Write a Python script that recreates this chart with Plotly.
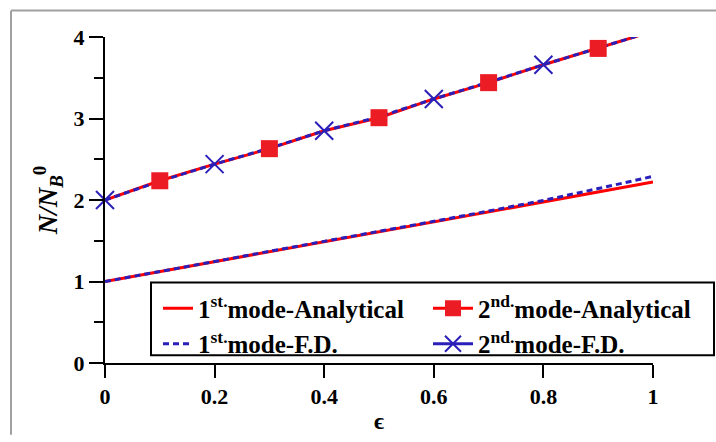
import plotly.graph_objects as go

# ---------------- data ----------------
eps = [0.0, 0.1, 0.2, 0.3, 0.4, 0.5, 0.6, 0.7, 0.8, 0.9, 1.0]
mode1_analytical = [1.00, 1.122, 1.244, 1.366, 1.488, 1.61, 1.732, 1.854, 1.976, 2.098, 2.22]
mode1_fd = [1.00, 1.12, 1.245, 1.37, 1.49, 1.612, 1.738, 1.865, 1.995, 2.14, 2.29]
mode2_analytical = [2.00, 2.236, 2.44, 2.63, 2.85, 3.01, 3.24, 3.44, 3.66, 3.86, 4.07]
mode2_fd = [2.00, 2.23, 2.44, 2.635, 2.85, 3.02, 3.24, 3.445, 3.66, 3.865, 4.07]
square_idx = [1, 3, 5, 7, 9]   # analytical markers
cross_idx = [0, 2, 4, 6, 8]    # F.D. markers

x_ticks = [0, 0.2, 0.4, 0.6, 0.8, 1]
x_tick_text = ["0", "0.2", "0.4", "0.6", "0.8", "1"]
y_ticks = [0, 1, 2, 3, 4]
y_tick_text = ["0", "1", "2", "3", "4"]

names = [
    "1<sup>st.</sup>mode-Analytical",
    "2<sup>nd.</sup>mode-Analytical",
    "1<sup>st.</sup>mode-F.D.",
    "2<sup>nd.</sup>mode-F.D.",
]

RED = "#FF0000"
SQ_RED = "#EC1C24"
BLUE = "#2A1FB8"
FONT = "Liberation Serif"

fig = go.Figure()

# lines
fig.add_trace(go.Scatter(x=eps, y=mode1_analytical, mode="lines",
                         line=dict(color=RED, width=3), showlegend=False))
fig.add_trace(go.Scatter(x=eps, y=mode1_fd, mode="lines",
                         line=dict(color=BLUE, width=3, dash="6px,4px"), showlegend=False))
fig.add_trace(go.Scatter(x=eps, y=mode2_analytical, mode="lines",
                         line=dict(color=RED, width=3), showlegend=False))
fig.add_trace(go.Scatter(x=eps, y=mode2_fd, mode="lines",
                         line=dict(color=BLUE, width=3, dash="6px,4px"), showlegend=False))
# markers
fig.add_trace(go.Scatter(x=[eps[i] for i in square_idx], y=[mode2_analytical[i] for i in square_idx],
                         mode="markers", marker=dict(symbol="square", size=17, color=SQ_RED),
                         showlegend=False, cliponaxis=False))
fig.add_trace(go.Scatter(x=[eps[i] for i in cross_idx], y=[mode2_fd[i] for i in cross_idx],
                         mode="markers",
                         marker=dict(symbol="x-thin", size=18, color=BLUE,
                                     line=dict(color=BLUE, width=2)),
                         showlegend=False, cliponaxis=False))

# legend entries (two columns -> two legends)
fig.add_trace(go.Scatter(x=[None], y=[None], mode="lines", name=names[0],
                         line=dict(color=RED, width=3), legend="legend"))
fig.add_trace(go.Scatter(x=[None], y=[None], mode="lines", name=names[2],
                         line=dict(color=BLUE, width=3, dash="6px,4px"), legend="legend"))
fig.add_trace(go.Scatter(x=[None], y=[None], mode="lines+markers", name=names[1],
                         line=dict(color=RED, width=3),
                         marker=dict(symbol="square", size=17, color=SQ_RED), legend="legend2"))
fig.add_trace(go.Scatter(x=[None], y=[None], mode="lines+markers", name=names[3],
                         line=dict(color=BLUE, width=3),
                         marker=dict(symbol="x-thin", size=17, color=BLUE,
                                     line=dict(color=BLUE, width=2)), legend="legend2"))

L, R, T, B = 105, 63, 37, 73
W, H = 716, 442
pw, ph = W - L - R, H - T - B

def px(p):
    return (p - L) / pw

def py(q):
    return (H - B - q) / ph

legfont = dict(family=FONT, size=25, weight="bold", color="black")

fig.update_layout(
    width=W, height=H,
    margin=dict(l=L, r=R, t=T, b=B),
    paper_bgcolor="white", plot_bgcolor="white",
    font=dict(family=FONT, color="black"),
    xaxis=dict(range=[0, 1], tickvals=x_ticks, ticktext=x_tick_text,
               showgrid=False, zeroline=False, showline=True, linecolor="black", linewidth=2,
               ticks="outside", ticklen=13, tickwidth=2, tickcolor="black",
               tickfont=dict(family=FONT, size=22, weight="bold", color="black"),
               title=dict(text="ϵ", font=dict(family=FONT, size=24, weight="bold"), standoff=4)),
    yaxis=dict(range=[0, 4], tickvals=y_ticks, ticktext=y_tick_text,
               showgrid=False, zeroline=False, showline=True, linecolor="black", linewidth=2,
               ticks="outside", ticklen=14, tickwidth=2, tickcolor="black",
               minor=dict(dtick=0.5, ticks="outside", ticklen=9, tickwidth=2, tickcolor="black",
                          showgrid=False),
               tickfont=dict(family=FONT, size=22, weight="bold", color="black"),
               title=dict(text="<i>N/N</i><sub><i>B</i></sub><sup>0</sup>",
                          font=dict(family=FONT, size=27, weight="bold"), standoff=8)),
    legend=dict(orientation="v", x=px(158), y=py(290), xanchor="left", yanchor="top",
                bgcolor="rgba(0,0,0,0)", borderwidth=0, font=legfont,
                tracegroupgap=0, itemwidth=30),
    legend2=dict(orientation="v", x=px(428), y=py(290), xanchor="left", yanchor="top",
                 bgcolor="rgba(0,0,0,0)", borderwidth=0, font=legfont,
                 tracegroupgap=0, itemwidth=40),
    shapes=[
        dict(type="rect", xref="paper", yref="paper", x0=px(151), x1=px(714), y0=py(287), y1=py(361),
             line=dict(color="black", width=2), fillcolor="white", layer="above"),
        dict(type="line", xref="paper", yref="paper", x0=px(11), x1=px(716), y0=py(10), y1=py(10),
             line=dict(color="#A0A0A0", width=2)),
        dict(type="line", xref="paper", yref="paper", x0=px(11), x1=px(11), y0=py(10), y1=py(442),
             line=dict(color="#A0A0A0", width=2)),
    ],
)

fig.write_html("out.html")
